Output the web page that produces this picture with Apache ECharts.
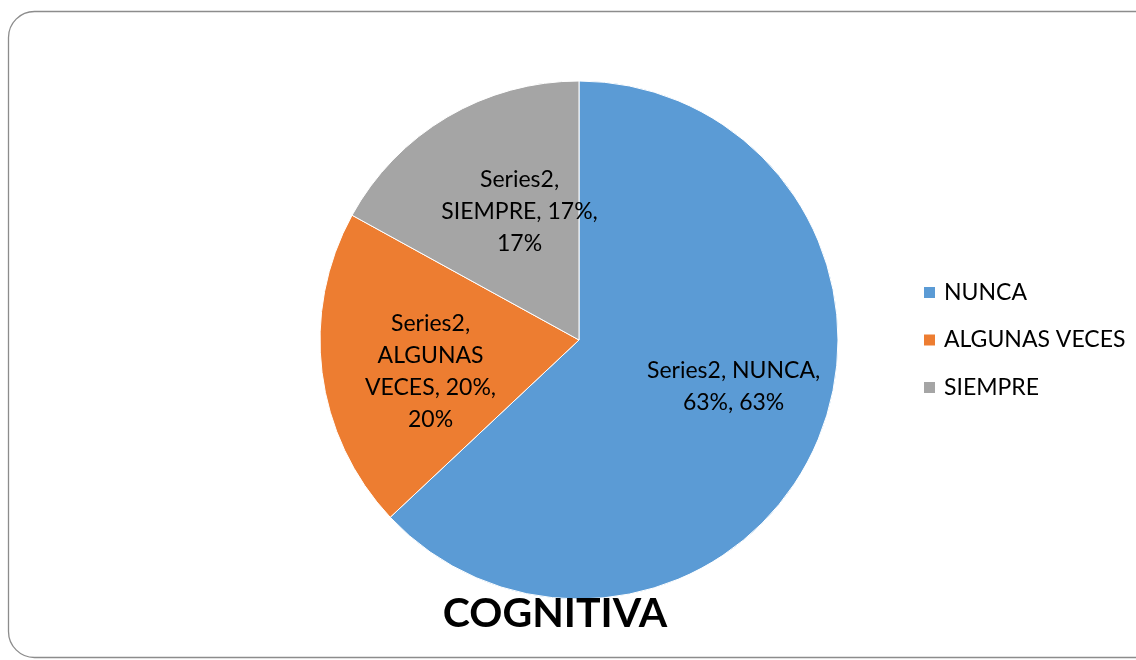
<!DOCTYPE html>
<html>
<head>
<meta charset="utf-8">
<script src="https://cdn.jsdelivr.net/npm/echarts@6/dist/echarts.min.js"></script>
<style>
html,body{margin:0;padding:0;background:#fff;}
#chart{width:1136px;height:660px;}
</style>
</head>
<body>
<div id="chart"></div>
<script>
const categories = ['NUNCA', 'ALGUNAS VECES', 'SIEMPRE'];
const values = [63, 20, 17];
const seriesName = 'Series2';
const titleText = 'COGNITIVA';
const colors = ['#5B9BD5', '#ED7D31', '#A5A5A5'];
const labelOffsets = [[33, -6], [-17, 15], [8, -14]];
const labelTexts = [
  'Series2, NUNCA,\n63%, 63%',
  'Series2,\nALGUNAS\nVECES, 20%,\n20%',
  'Series2,\nSIEMPRE, 17%,\n17%'
];

const font = 'Lato, "Open Sans", sans-serif';
const chart = echarts.init(document.getElementById('chart'));
chart.setOption({
  animation: false,
  color: colors,
  graphic: [{
    type: 'rect',
    shape: {x: 8.5, y: 11.5, width: 1160, height: 646, r: 26},
    style: {fill: 'none', stroke: '#8c8c8c', lineWidth: 1.3},
    silent: true, z: -10
  }],
  title: {
    text: titleText,
    left: 550, top: 588,
    textAlign: 'center',
    textStyle: {fontFamily: font, fontSize: 41, fontWeight: 'bold', color: '#000'}
  },
  legend: {
    orient: 'vertical',
    left: 917, top: 276,
    itemWidth: 13, itemHeight: 13,
    itemGap: 24.5,
    icon: 'rect',
    textStyle: {fontFamily: font, fontSize: 23, color: '#000', padding: [0, 0, 0, 3]},
    data: categories
  },
  series: [{
    name: seriesName,
    type: 'pie',
    center: [579, 340],
    radius: 259,
    startAngle: 90,
    clockwise: true,
    itemStyle: {borderColor: '#fff', borderWidth: 1},
    label: {
      show: true,
      position: 'inside',
      fontFamily: font,
      fontSize: 23,
      lineHeight: 32,
      color: '#000',
      align: 'center'
    },
    labelLine: {show: false},
    emphasis: {disabled: true},
    data: categories.map((c, i) => ({
      name: c,
      value: values[i],
      label: {formatter: labelTexts[i], offset: labelOffsets[i]}
    }))
  }]
});
</script>
</body>
</html>
